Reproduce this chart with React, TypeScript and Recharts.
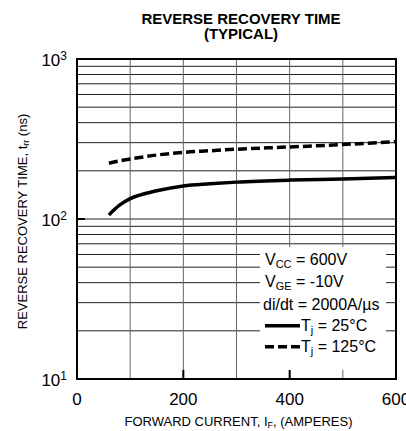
import { CartesianGrid, Legend, Line, LineChart, ReferenceArea, XAxis, YAxis } from "recharts";

const forwardCurrent = [60, 80, 100, 150, 200, 250, 300, 400, 500, 600];
const trr25 = [106, 122, 134, 150, 161, 166, 170, 175, 178, 182];
const trr125 = [223, 231, 237, 251, 261, 267, 273, 282, 292, 305];

const xTicks = [0, 100, 200, 300, 400, 500, 600];
const xTickLabels = ["0", "", "200", "", "400", "", "600"];
const xMajorMarks = [200, 400];
const yTicks = [10, 20, 30, 40, 50, 60, 70, 80, 90, 100, 200, 300, 400, 500, 600, 700, 800, 900, 1000];
const yDecades = [10, 100, 1000];
const yExponents = ["1", "2", "3"];
const yMajorMarks = [100];

const titleLines = ["REVERSE RECOVERY TIME", "(TYPICAL)"];
const conditions = [
	["V", "CC", " = 600V"],
	["V", "GE", " = -10V"],
	["di/dt = 2000A/\u00b5s", "", ""],
];
const seriesTemps = ["25\u00b0C", "125\u00b0C"];

const data = forwardCurrent.map((f, i) => ({ current: f, t25: trr25[i], t125: trr125[i] }));

const FONT = '"Liberation Sans", Arial, Helvetica, sans-serif';

function XTick({ x, y, payload }: any) {
	const i = xTicks.indexOf(payload.value);
	return (
		<g>
			{xMajorMarks.includes(payload.value) && <line x1={x} x2={x} y1={y} y2={y - 9} stroke="#000" strokeWidth={2} />}
			<text x={x} y={y + 26} textAnchor="middle" fontFamily={FONT} fontSize={17} fill="#000">
				{xTickLabels[i] ?? ""}
			</text>
		</g>
	);
}

function TopTick({ x, y, payload }: any) {
	if (!xMajorMarks.includes(payload.value)) return <g />;
	return <line x1={x} x2={x} y1={y} y2={y + 9} stroke="#000" strokeWidth={2} />;
}

function YTick({ x, y, payload }: any) {
	const i = yDecades.indexOf(payload.value);
	if (i < 0) return <g />;
	return (
		<g>
			{yMajorMarks.includes(payload.value) && <line x1={x} x2={x + 8} y1={y} y2={y} stroke="#000" strokeWidth={2} />}
			<text x={x - 10} y={y + 7} textAnchor="end" fontFamily={FONT} fontSize={17} fill="#000">
				10
				<tspan fontSize={12} dy={-6}>
					{yExponents[i]}
				</tspan>
			</text>
		</g>
	);
}

function RightTick({ x, y, payload }: any) {
	if (!yMajorMarks.includes(payload.value)) return <g />;
	return <line x1={x} x2={x - 8} y1={y} y2={y} stroke="#000" strokeWidth={2} />;
}

function LegendBox() {
	const rowY = [18, 39.7, 62.5, 84, 105];
	return (
		<svg width={126} height={123} style={{ display: "block" }}>
			<rect x={0} y={0} width={126} height={123} fill="#fff" />
			{conditions.map((c, i) => (
				<text key={i} x={c[1] ? 5 : 3} y={rowY[i]} fontFamily={FONT} fontSize={16} fill="#000">
					{c[0]}
					{c[1] ? (
						<>
							<tspan fontSize={11} dy={3}>
								{c[1]}
							</tspan>
							<tspan dy={-3}>{c[2]}</tspan>
						</>
					) : null}
				</text>
			))}
			{seriesTemps.map((t, i) => (
				<g key={t}>
					<line
						x1={5}
						x2={40}
						y1={rowY[3 + i] - 5.3}
						y2={rowY[3 + i] - 5.3}
						stroke="#000"
						strokeWidth={3.5}
						strokeDasharray={i === 1 ? "9 4" : undefined}
					/>
					<text x={41} y={rowY[3 + i]} fontFamily={FONT} fontSize={16} fill="#000">
						T
						<tspan fontSize={11} dy={3}>
							j
						</tspan>
						<tspan dy={-3}>{` = ${t}`}</tspan>
					</text>
				</g>
			))}
		</svg>
	);
}

export default function App() {
	return (
		<div style={{ position: "absolute", left: 0, top: 0, width: 406, height: 431, background: "#fff" }}>
			<LineChart width={406} height={431} data={data} margin={{ top: 59, right: 10, bottom: 0, left: 0 }}>
				<CartesianGrid vertical={false} stroke="#222" />
				<CartesianGrid horizontal={false} stroke="#666" />
				<XAxis
					dataKey="current"
					type="number"
					domain={[0, 600]}
					ticks={xTicks}
					interval={0}
					height={52}
					tickSize={0}
					tickMargin={0}
					axisLine={false}
					tick={<XTick />}
				/>
				<XAxis
					xAxisId="top"
					orientation="top"
					dataKey="current"
					type="number"
					domain={[0, 600]}
					ticks={xTicks}
					interval={0}
					height={0}
					tickSize={0}
					tickMargin={0}
					axisLine={false}
					tick={<TopTick />}
				/>
				<YAxis
					type="number"
					scale="log"
					domain={[10, 1000]}
					ticks={yTicks}
					interval={0}
					width={77}
					tickSize={0}
					tickMargin={0}
					axisLine={false}
					allowDataOverflow
					tick={<YTick />}
				/>
				<YAxis
					yAxisId="right"
					orientation="right"
					type="number"
					scale="log"
					domain={[10, 1000]}
					ticks={yTicks}
					interval={0}
					width={0}
					tickSize={0}
					tickMargin={0}
					axisLine={false}
					allowDataOverflow
					tick={<RightTick />}
				/>
				<ReferenceArea x1={0} x2={600} y1={10} y2={1000} fill="none" stroke="#000" strokeWidth={2} />
				<Line dataKey="t25" type="monotone" stroke="#000" strokeWidth={3.5} dot={false} isAnimationActive={false} />
				<Line
					dataKey="t125"
					type="monotone"
					stroke="#000"
					strokeWidth={3.5}
					strokeDasharray="9 4"
					dot={false}
					isAnimationActive={false}
				/>
				<Legend
					layout="vertical"
					align="center"
					verticalAlign="middle"
					content={<LegendBox />}
					wrapperStyle={{ left: 260, top: 247, width: 126, height: 123, bottom: "auto" }}
				/>
				{titleLines.map((t, i) => (
					<text key={t} x={241} y={23.8 + i * 15} textAnchor="middle" fontFamily={FONT} fontSize={15} fontWeight="bold" fill="#000">
						{t}
					</text>
				))}
				<text x={238.5} y={426} textAnchor="middle" fontFamily={FONT} fontSize={13} fill="#000">
					FORWARD CURRENT, I
					<tspan fontSize={9} dy={2}>
						F
					</tspan>
					<tspan dy={-2}>, (AMPERES)</tspan>
				</text>
				<text
					x={26.5}
					y={221.5}
					transform="rotate(-90, 26.5, 221.5)"
					textAnchor="middle"
					fontFamily={FONT}
					fontSize={13}
					fill="#000"
				>
					REVERSE RECOVERY TIME, t
					<tspan fontSize={9} dy={2}>
						rr
					</tspan>
					<tspan dy={-2}> (ns)</tspan>
				</text>
			</LineChart>
		</div>
	);
}
